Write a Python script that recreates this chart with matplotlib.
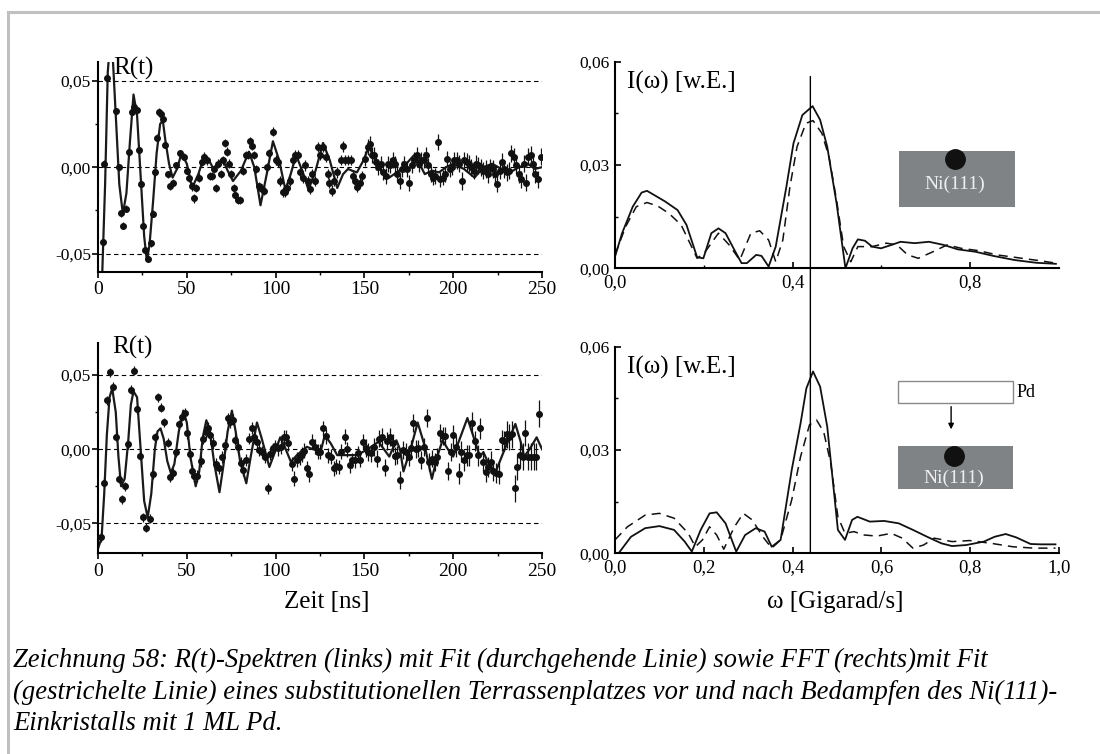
import numpy as np
import matplotlib
matplotlib.use('Agg')
import matplotlib.pyplot as plt
from matplotlib.lines import Line2D
from matplotlib.patches import Rectangle, ConnectionPatch
from matplotlib.ticker import FixedLocator, FuncFormatter

plt.rcParams['font.family'] = ['Liberation Serif', 'DejaVu Serif']

# --- R(t) data, vor dem Bedampfen (oben links)
tl_t = [2.6, 3.6, 5.0, 10.1, 11.7, 13.1, 14.3, 15.5, 17.7, 19.1, 20.5, 21.9, 23.1, 24.3, 25.5, 26.7,
        28.2, 29.6, 30.8, 32.0, 33.2, 34.6, 35.6, 36.8, 37.8, 39.2, 40.8, 42.2, 43.8, 46.3, 48.3,
        49.9, 51.3, 52.7, 53.9, 55.3, 56.9, 58.3, 59.7, 61.3, 62.9, 64.4, 65.4, 66.4, 67.8, 69.4,
        70.4, 71.4, 72.6, 73.8, 75.0, 76.4, 77.4, 78.8, 80.0, 81.4, 83.1, 84.5, 85.5, 86.9, 87.9,
        89.1, 90.5, 92.1, 93.5, 95.1, 96.5, 98.6, 100.0, 101.2, 102.6, 104.0, 105.2, 106.6, 108.0,
        109.6, 111.0, 112.6, 113.6, 115.2, 116.6, 118.0, 119.3, 120.7, 122.1, 123.7, 125.1, 126.7,
        128.1, 129.3, 130.3, 131.7, 133.1, 134.7, 136.7, 137.8, 139.2, 140.8, 142.2, 143.4, 144.8,
        145.8, 147.4, 148.8, 150.2, 151.8, 153.2, 154.2, 155.5, 156.5, 157.9, 159.3, 160.3, 161.9,
        163.3, 164.5, 165.9, 167.3, 168.5, 169.9, 171.3, 172.5, 173.9, 175.3, 176.6, 178.0, 179.4,
        180.6, 182.0, 183.4, 184.6, 186.0, 187.4, 188.6, 190.0, 191.4, 192.7, 194.0, 195.5, 196.7,
        198.1, 199.5, 200.7, 202.1, 203.5, 204.7, 206.1, 207.5, 208.7, 210.1, 211.5, 212.8, 214.2,
        215.6, 216.8, 218.2, 219.6, 220.8, 222.2, 223.6, 224.8, 226.2, 227.6, 228.8, 230.2, 231.6,
        232.8, 234.2, 235.6, 236.8, 238.2, 239.6, 240.8, 242.3, 243.7, 244.9, 246.3, 247.7, 249.4]
tl_r = [-0.0434, 0.0019, 0.0516, 0.0322, 0.000, -0.0266, -0.0337, -0.024, 0.0087, 0.032, 0.035,
        0.033, 0.010, -0.0096, -0.034, -0.048, -0.053, -0.044, -0.027, -0.003, 0.017, 0.032, 0.031,
        0.028, 0.013, -0.004, -0.011, -0.009, 0.001, 0.008, 0.006, -0.002, -0.006, -0.011, -0.018,
        -0.012, -0.006, 0.003, 0.006, 0.004, -0.005, -0.005, -0.001, -0.012, 0.002, -0.004, 0.004,
        0.014, 0.009, 0.002, -0.004, -0.012, -0.016, -0.019, -0.019, -0.002, 0.007, 0.007, 0.015,
        0.0125, 0.007, -0.001, -0.011, -0.0125, -0.0135, 0.000, 0.008, 0.0206, 0.004, 0.003, -0.008,
        -0.0145, -0.0145, -0.012, -0.008, 0.004, 0.007, 0.007, -0.003, -0.006, 0.001, -0.008,
        -0.0125, -0.004, -0.008, 0.0116, 0.007, 0.0116, 0.006, -0.004, -0.009, -0.0135, -0.008,
        -0.003, 0.004, 0.012, 0.004, 0.004, 0.004, -0.005, -0.008, -0.0115, -0.009, -0.005, 0.005,
        0.0116, 0.0135, 0.007, 0.007, 0.003, 0.000, 0.002, -0.003, -0.005, 0.002, 0.001, 0.004,
        0.002, -0.004, -0.008, -0.001, 0.002, -0.001, -0.009, 0.001, 0.004, 0.007, 0.002, 0.004,
        0.004, 0.007, 0.001, -0.004, -0.006, -0.005, 0.0145, -0.007, -0.006, -0.004, 0.005, -0.001,
        0.000, 0.004, 0.004, 0.002, -0.008, 0.004, 0.003, 0.002, 0.000, -0.002, 0.002, 0.001, 0.000,
        -0.002, -0.001, -0.004, 0.000, -0.001, -0.004, -0.0096, -0.002, 0.003, -0.001, -0.003,
        -0.002, 0.008, 0.006, 0.001, -0.004, -0.007, 0.002, -0.009, 0.006, 0.007, 0.002, -0.004,
        -0.007, 0.006]
tl_fit_t = [2.4, 4.0, 5.5, 7.0, 8.5, 10, 12, 14, 16, 18, 20, 22, 24, 26, 27.5, 29, 31, 33, 35, 36.5,
            38, 40, 42, 44.5, 47, 50, 53, 56.5, 60, 62.5, 65, 67.5, 70, 73, 76, 80.5, 85, 88, 91.5,
            95, 98.5, 102, 105.5, 108.5, 111.5, 115, 118.5, 122.5, 126.7, 130.5, 134.7, 138, 140.8,
            143, 145.8, 149.5, 152.8, 156, 160, 164, 171, 178, 181, 184, 188, 192, 196, 200, 206,
            212, 217, 222, 227, 232, 237, 242, 246, 250]
tl_fit_r = [-0.061, -0.01, 0.055, 0.075, 0.06, 0.03, -0.01, -0.027, -0.015, 0.015, 0.042, 0.03,
            -0.005, -0.04, -0.054, -0.045, -0.02, 0.008, 0.025, 0.027, 0.015, 0.002, -0.006, -0.001,
            0.008, 0.002, -0.012, -0.004, 0.007, 0.004, -0.001, 0.002, 0.005, -0.002, -0.008,
            -0.002, 0.009, 0.0, -0.022, -0.004, 0.015, 0.004, -0.013, -0.004, 0.007, -0.002, -0.013,
            -0.002, 0.014, 0.004, -0.012, -0.004, -0.001, -0.002, -0.003, 0.004, 0.0125, 0.004,
            -0.003, -0.006, -0.001, 0.007, 0.002, -0.004, -0.002, -0.003, 0.0, 0.002, -0.001,
            -0.006, 0.0, 0.002, -0.001, -0.003, 0.0, 0.002, -0.001, 0.0]
tl_err_from = [0, 50, 100, 150, 200]
tl_err_size = [0.002, 0.0025, 0.003, 0.0045, 0.005]

# --- R(t) data, nach dem Bedampfen mit 1 ML Pd (unten links)
bl_t = [1.6, 3.6, 5.0, 6.6, 8.6, 10.1, 12.1, 13.5, 15.1, 17.1, 18.7, 20.5, 22.1, 23.7, 25.5, 27.1,
        29.2, 30.8, 32.2, 33.8, 35.6, 37.2, 39.2, 40.8, 42.4, 44.2, 45.7, 47.3, 48.9, 50.3, 51.7,
        52.9, 54.3, 55.9, 57.9, 59.3, 60.7, 61.9, 63.3, 64.9, 66.4, 68.0, 69.8, 71.4, 73.0, 74.4,
        75.8, 77.4, 79.0, 80.4, 81.8, 83.4, 84.9, 86.5, 87.9, 89.5, 90.9, 92.5, 93.9, 95.5, 96.9,
        98.5, 99.9, 101.6, 103.2, 104.6, 106.0, 107.2, 109.0, 110.6, 112.0, 113.6, 115.0, 116.2,
        117.6, 119.0, 120.7, 122.1, 123.7, 125.1, 126.7, 128.1, 129.7, 131.1, 132.7, 134.1, 135.7,
        137.1, 138.8, 140.2, 141.8, 143.2, 144.8, 146.2, 147.8, 149.2, 150.8, 152.2, 153.8, 155.2,
        156.9, 158.3, 159.9, 161.5, 162.9, 164.5, 165.9, 167.3, 168.5, 170.3, 171.9, 173.6, 175.0,
        176.4, 177.6, 179.0, 180.4, 182.0, 183.4, 185.0, 186.4, 188.0, 189.6, 191.0, 192.5, 194.1,
        195.5, 197.1, 198.5, 200.1, 201.5, 203.1, 204.5, 206.1, 207.5, 209.1, 210.5, 212.1, 213.8,
        215.2, 216.8, 218.2, 219.8, 221.2, 222.6, 224.2, 225.8, 227.2, 228.6, 230.2, 231.6, 233.2,
        234.8, 236.2, 237.8, 239.3, 240.7, 242.3, 243.9, 245.3, 246.7, 248.3]
bl_r = [-0.0595, -0.0227, 0.033, 0.052, 0.042, 0.0083, -0.020, -0.0337, -0.025, 0.0034, 0.040,
        0.053, 0.027, -0.0045, -0.046, -0.053, -0.047, -0.017, 0.008, 0.035, 0.028, 0.018, 0.0043,
        -0.019, -0.016, -0.002, 0.017, 0.022, 0.0245, 0.011, -0.0034, -0.0146, -0.018, -0.018,
        -0.008, 0.0072, 0.0117, 0.014, 0.0094, 0.0043, -0.0097, -0.013, -0.005, 0.0027, 0.0207,
        0.018, 0.020, 0.0065, 0.0016, -0.009, -0.014, -0.007, 0.0072, 0.014, 0.0083, 0.005,
        -0.0007, -0.0018, -0.005, -0.0265, -0.003, 0.0005, 0.002, 0.0005, 0.0016, 0.008, 0.008,
        0.004, -0.010, -0.020, -0.007, -0.0056, -0.0034, -0.0011, -0.013, -0.017, 0.005, 0.0016,
        -0.0018, -0.0018, 0.014, 0.0088, -0.004, -0.005, -0.013, -0.0115, -0.012, -0.0018, 0.0083,
        0.000, -0.0108, -0.0074, -0.0074, -0.0029, -0.007, 0.005, 0.001, -0.0018, -0.0029, 0.0016,
        -0.0063, 0.0072, 0.0083, -0.0124, 0.0056, 0.008, 0.004, -0.0047, -0.004, -0.021, -0.0007,
        -0.0018, -0.005, 0.0005, 0.0178, 0.000, 0.0005, -0.0074, 0.0016, 0.021, -0.0085, -0.0063,
        -0.0085, -0.005, 0.011, 0.0088, 0.0088, -0.0146, -0.0018, 0.0094, 0.0016, -0.0164, -0.0018,
        -0.0074, -0.004, -0.004, 0.0178, 0.0056, -0.004, 0.014, -0.0085, -0.0153, -0.012, -0.0085,
        -0.0146, -0.016, -0.0164, 0.006, 0.0056, 0.010, 0.0083, 0.010, -0.0265, -0.012, -0.004,
        -0.005, 0.011, -0.005, -0.005, -0.005, -0.005, 0.024]
bl_fit_t = [0, 2, 3.5, 5, 6.5, 8, 10, 11.5, 13, 15, 17, 18.5, 20, 22, 24, 26, 28, 30, 32, 33.5,
            35.2, 37, 39, 41, 43, 45.5, 48, 50, 52, 55, 57, 59, 61, 63, 65.5, 68.4, 70.5, 73, 75.4,
            77.5, 80, 83.5, 86, 89.5, 92, 96.5, 99, 102.6, 105, 108.6, 112, 117.6, 121, 125.7,
            127.7, 131, 134.7, 140, 145.8, 152, 157.9, 161, 164, 168, 170, 172, 176, 180, 184, 188,
            191, 194, 197, 200, 204, 208, 211, 215, 217, 220, 224, 229, 235, 238, 240, 243, 247,
            250]
bl_fit_r = [-0.067, -0.06, -0.03, 0.01, 0.035, 0.041, 0.025, -0.005, -0.025, -0.02, 0.005, 0.03,
            0.039, 0.035, 0.0, -0.035, -0.046, -0.03, 0.0, 0.012, 0.014, 0.007, -0.008, -0.016,
            -0.01, 0.012, 0.026, 0.018, -0.005, -0.025, -0.015, 0.008, 0.0195, 0.012, -0.01,
            -0.029, -0.012, 0.012, 0.026, 0.012, -0.008, -0.023, -0.005, 0.018, 0.008, -0.012,
            -0.004, 0.008, 0.002, -0.0085, -0.004, 0.0016, 0.0, 0.0, 0.0094, 0.004, -0.004, -0.004,
            -0.004, 0.0, 0.005, 0.0, -0.005, 0.006, 0.0, -0.015, 0.0, 0.018, 0.002, -0.020, -0.005,
            0.006, 0.0, -0.005, 0.008, 0.021, 0.01, -0.005, -0.002, -0.01, -0.015, 0.0, 0.017,
            0.005, -0.005, 0.0, 0.008, 0.0]
bl_err_from = [0, 50, 100, 150, 200, 230]
bl_err_size = [0.003, 0.004, 0.005, 0.006, 0.007, 0.009]

# --- FFT, vor dem Bedampfen (oben rechts)
tr_w = [0.0, 0.016, 0.040, 0.060, 0.072, 0.088, 0.113, 0.141, 0.161, 0.185, 0.199, 0.217, 0.233,
        0.249, 0.269, 0.285, 0.297, 0.318, 0.330, 0.346, 0.362, 0.386, 0.402, 0.422, 0.445, 0.462,
        0.478, 0.499, 0.519, 0.535, 0.547, 0.563, 0.579, 0.599, 0.623, 0.643, 0.675, 0.707, 0.740,
        0.772, 0.812, 0.852, 0.900, 0.949, 0.993]
tr_fft = [0.0034, 0.0102, 0.0179, 0.022, 0.0225, 0.0213, 0.0194, 0.0169, 0.0126, 0.0032, 0.0029,
          0.0102, 0.0116, 0.0102, 0.0053, 0.0015, 0.0015, 0.0039, 0.0036, 0.0005, 0.0063, 0.0237,
          0.0363, 0.0445, 0.0471, 0.0431, 0.0353, 0.0189, 0.0, 0.0058, 0.0084, 0.0080, 0.0063,
          0.0058, 0.0068, 0.0077, 0.0073, 0.0077, 0.0068, 0.0055, 0.0048, 0.0036, 0.0024, 0.0016,
          0.0013]
tr_fit_w = [0.0, 0.024, 0.048, 0.072, 0.096, 0.121, 0.149, 0.185, 0.201, 0.233, 0.257, 0.281,
            0.306, 0.326, 0.346, 0.362, 0.378, 0.394, 0.410, 0.430, 0.446, 0.466, 0.482, 0.499,
            0.515, 0.531, 0.547, 0.579, 0.611, 0.635, 0.659, 0.683, 0.716, 0.748, 0.780, 0.820,
            0.860, 0.900, 0.957, 0.993]
tr_fit = [0.0039, 0.0121, 0.0179, 0.0191, 0.0181, 0.016, 0.0126, 0.0029, 0.0044, 0.0102, 0.0068,
          0.0024, 0.0102, 0.0109, 0.0082, 0.0019, 0.0082, 0.0237, 0.0353, 0.0421, 0.0429, 0.0392,
          0.0324, 0.0198, 0.0063, 0.0019, 0.0063, 0.0063, 0.0073, 0.0068, 0.0039, 0.0029, 0.0048,
          0.0068, 0.0058, 0.0051, 0.0039, 0.0032, 0.0022, 0.0015]

# --- FFT, nach dem Bedampfen (unten rechts)
br_w = [0.008, 0.036, 0.068, 0.100, 0.133, 0.157, 0.173, 0.193, 0.213, 0.229, 0.249, 0.273, 0.293,
        0.317, 0.337, 0.353, 0.373, 0.398, 0.418, 0.431, 0.446, 0.462, 0.478, 0.502, 0.518, 0.534,
        0.546, 0.574, 0.606, 0.639, 0.671, 0.703, 0.735, 0.759, 0.791, 0.831, 0.855, 0.880, 0.904,
        0.936, 0.960, 0.992]
br_fft = [0.0, 0.0048, 0.0073, 0.0079, 0.0068, 0.0034, 0.0005, 0.0068, 0.0116, 0.0119, 0.0087,
          0.0005, 0.0053, 0.0073, 0.0063, 0.0019, 0.0039, 0.0242, 0.0378, 0.0479, 0.0528, 0.0484,
          0.0368, 0.0068, 0.0039, 0.0097, 0.0106, 0.0092, 0.0094, 0.0087, 0.0068, 0.0048, 0.0029,
          0.0021, 0.0024, 0.0034, 0.0048, 0.0056, 0.0046, 0.0027, 0.0026, 0.0026]
br_fit_w = [0.0, 0.028, 0.068, 0.100, 0.133, 0.165, 0.181, 0.197, 0.213, 0.229, 0.245, 0.269,
            0.289, 0.309, 0.333, 0.353, 0.373, 0.398, 0.418, 0.438, 0.454, 0.470, 0.486, 0.502,
            0.518, 0.538, 0.562, 0.590, 0.622, 0.647, 0.671, 0.695, 0.719, 0.759, 0.799, 0.847,
            0.896, 0.944, 0.992]
br_fit = [0.0039, 0.0077, 0.0111, 0.0116, 0.0102, 0.0058, 0.0019, 0.0039, 0.0077, 0.0053, 0.0012,
          0.0077, 0.0116, 0.0097, 0.0048, 0.0015, 0.0039, 0.0155, 0.0281, 0.0373, 0.0387, 0.0353,
          0.0261, 0.0106, 0.0058, 0.0063, 0.0053, 0.0050, 0.0058, 0.0044, 0.0015, 0.0024, 0.0044,
          0.0034, 0.0037, 0.0029, 0.0019, 0.0015, 0.0015]

omega_line = 0.44
caption = ["Zeichnung 58: R(t)-Spektren (links) mit Fit (durchgehende Linie) sowie FFT (rechts)mit Fit",
           "(gestrichelte Linie) eines substitutionellen Terrassenplatzes vor und nach Bedampfen des Ni(111)-",
           "Einkristalls mit 1 ML Pd."]

W, H = 1100, 754
fig = plt.figure(figsize=(W / 100, H / 100), dpi=100)


def box(x0, y0, x1, y1):
    # pixel box (top-left origin) -> figure fraction
    return [x0 / W, 1 - y1 / H, (x1 - x0) / W, (y1 - y0) / H]


comma2 = FuncFormatter(lambda v, p: f"{v:.2f}".replace('.', ','))
comma1 = FuncFormatter(lambda v, p: f"{v:.1f}".replace('.', ','))


def style_axes(ax, direction, xpad, ypad, xsize):
    for s in ['top', 'right']:
        ax.spines[s].set_visible(False)
    for s in ['left', 'bottom']:
        ax.spines[s].set_linewidth(1.5)
    ax.tick_params(which='major', direction=direction, length=4, width=1.2)
    ax.tick_params(which='minor', direction=direction, length=2.5, width=1.0)
    ax.tick_params(axis='x', labelsize=xsize, pad=xpad)
    ax.tick_params(axis='y', labelsize=12.5, pad=ypad)


def r_panel(ax, t, r, err_from, err_size, fit_t, fit_r, ylim):
    err = np.array(err_size)[np.digitize(t, err_from) - 1]
    for y in [-0.05, 0.0, 0.05]:
        ax.axhline(y, color='black', lw=0.8, ls=(0, (4, 3)), zorder=1)
    ax.plot(fit_t, fit_r, color='#1a1a1a', lw=1.6, zorder=2)
    ax.errorbar(t, r, yerr=err, fmt='o', ms=4, color='#111111', ecolor='#111111',
                elinewidth=0.9, capsize=0, zorder=3)
    ax.set_xlim(0, 250)
    ax.set_ylim(*ylim)
    ax.xaxis.set_major_locator(FixedLocator([0, 50, 100, 150, 200, 250]))
    ax.xaxis.set_minor_locator(FixedLocator([25, 75, 125, 175, 225]))
    ax.yaxis.set_major_locator(FixedLocator([-0.05, 0.0, 0.05]))
    ax.yaxis.set_minor_locator(FixedLocator([-0.025, 0.025]))
    ax.yaxis.set_major_formatter(comma2)
    style_axes(ax, 'out', 3, 1, 14)


def fft_panel(ax, w, fft, fit_w, fit, xticks):
    ax.plot(w, fft, color='#111111', lw=1.3)
    ax.plot(fit_w, fit, color='#111111', lw=1.1, ls=(0, (6, 4)))
    ax.set_xlim(0, 1.0)
    ax.set_ylim(0, 0.06)
    ax.xaxis.set_major_locator(FixedLocator(xticks))
    ax.yaxis.set_major_locator(FixedLocator([0.0, 0.03, 0.06]))
    ax.yaxis.set_minor_locator(FixedLocator([0.015, 0.045]))
    ax.yaxis.set_major_formatter(comma2)
    ax.xaxis.set_major_formatter(comma1)
    style_axes(ax, 'in', 4.5, 4, 13.5)
    ax.text(0.028, 0.9, 'I(ω) [w.E.]', transform=ax.transAxes, fontsize=18,
            ha='left', va='center')


ax_tl = fig.add_axes(box(98, 62, 542, 271.7))
ax_bl = fig.add_axes(box(98, 343.3, 542, 553.3))
ax_tr = fig.add_axes(box(615, 61.7, 1059, 268.3))
ax_br = fig.add_axes(box(615, 346.7, 1059, 553.3))

r_panel(ax_tl, tl_t, tl_r, tl_err_from, tl_err_size, tl_fit_t, tl_fit_r, (-0.0604, 0.0608))
r_panel(ax_bl, bl_t, bl_r, bl_err_from, bl_err_size, bl_fit_t, bl_fit_r, (-0.0702, 0.0714))
ax_tl.text(0.034, 0.967, 'R(t)', transform=ax_tl.transAxes, fontsize=18, ha='left', va='center')
ax_bl.text(0.033, 0.978, 'R(t)', transform=ax_bl.transAxes, fontsize=18, ha='left', va='center')

fft_panel(ax_tr, tr_w, tr_fft, tr_fit_w, tr_fit, [0.0, 0.4, 0.8])
ax_tr.xaxis.set_minor_locator(FixedLocator([0.2, 0.6]))
fft_panel(ax_br, br_w, br_fft, br_fit_w, br_fit, [0.0, 0.2, 0.4, 0.6, 0.8, 1.0])

# senkrechte Linie bei der Larmorfrequenz, durch beide FFT-Diagramme
con = ConnectionPatch(xyA=(omega_line, 0.0557), coordsA=ax_tr.transData,
                      xyB=(omega_line, 0.0), coordsB=ax_br.transData, color='black', lw=1.0)
fig.add_artist(con)

# Skizzen: Ni(111) Kristall (und Pd-Bedampfung)
grey = '#7f8386'
ax_tr.add_patch(Rectangle((0.640, 0.0178), 0.261, 0.0162, facecolor=grey, edgecolor='none', zorder=4))
ax_tr.plot([0.766], [0.0317], 'o', ms=14, color='#111111', zorder=5)
ax_tr.text(0.766, 0.0245, 'Ni(111)', color='#eeeeee', fontsize=14, ha='center', va='center', zorder=6)

ax_br.add_patch(Rectangle((0.637, 0.0187), 0.259, 0.0125, facecolor=grey, edgecolor='none', zorder=4))
ax_br.plot([0.764], [0.0283], 'o', ms=14, color='#111111', zorder=5)
ax_br.text(0.764, 0.0217, 'Ni(111)', color='#eeeeee', fontsize=14, ha='center', va='center', zorder=6)
ax_br.add_patch(Rectangle((0.637, 0.0437), 0.259, 0.0062, facecolor='white', edgecolor='#8a8a8a',
                          lw=1.0, zorder=4))
ax_br.text(0.905, 0.0468, 'Pd', fontsize=13, ha='left', va='center')
ax_br.annotate('', xy=(0.757, 0.0352), xytext=(0.757, 0.0434),
               arrowprops=dict(arrowstyle='-|>', color='black', lw=1.0, mutation_scale=8))

fig.text(327 / W, 1 - 602 / H, 'Zeit [ns]', fontsize=18, ha='center', va='center')
fig.text(835 / W, 1 - 602 / H, 'ω [Gigarad/s]', fontsize=18, ha='center', va='center')

for i, line in enumerate(caption):
    fig.text(13 / W, 1 - (660 + 32 * i) / H, line, fontsize=19.2, style='italic',
             ha='left', va='center')

# grauer Rahmen oben und links
fig.add_artist(Line2D([8 / W, 1], [1 - 12 / H, 1 - 12 / H], color='#c0c0c0', lw=2.2))
fig.add_artist(Line2D([8 / W, 8 / W], [0, 1 - 12 / H], color='#c0c0c0', lw=2.2))

fig.savefig('out.png', dpi=100)
